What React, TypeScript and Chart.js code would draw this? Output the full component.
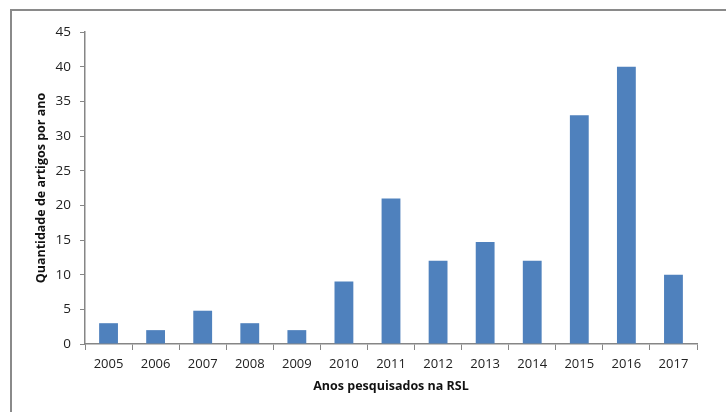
import React, { useEffect, useRef } from "react";
import { Chart, registerables } from "chart.js";

Chart.register(...registerables);

// Articles found per year in the systematic literature review
const years = ["2005", "2006", "2007", "2008", "2009", "2010", "2011", "2012", "2013", "2014", "2015", "2016", "2017"];
const articleCounts = [3, 2, 4.8, 3, 2, 9, 21, 12, 14.7, 12, 33, 40, 10];

const yTitle = "Quantidade de artigos por ano";
const xTitle = "Anos pesquisados na RSL";

const AXIS_GRAY = "#868686";
const FONT = "'Open Sans', 'Liberation Sans', sans-serif";

// Thin gray frame around the figure (left and top edges)
const framePlugin = {
  id: "frame",
  beforeDraw(chart: Chart) {
    const ctx = chart.ctx;
    ctx.save();
    ctx.strokeStyle = "#8a8a8a";
    ctx.lineWidth = 2;
    ctx.beginPath();
    ctx.moveTo(11, chart.height);
    ctx.lineTo(11, 10);
    ctx.lineTo(chart.width, 10);
    ctx.stroke();
    ctx.restore();
  },
};

export default function App() {
  const canvasRef = useRef<HTMLCanvasElement | null>(null);

  useEffect(() => {
    const canvas = canvasRef.current;
    if (!canvas) return;
    const chart = new Chart(canvas, {
      type: "bar",
      data: {
        labels: years,
        datasets: [
          {
            data: articleCounts,
            backgroundColor: "#4F81BD",
            borderWidth: 0,
            barPercentage: 0.4,
            categoryPercentage: 1,
          },
        ],
      },
      options: {
        responsive: false,
        animation: false,
        layout: { padding: { left: 0, top: 32, right: 29, bottom: 0 } },
        plugins: {
          legend: { display: false },
          tooltip: { enabled: false },
        },
        scales: {
          x: {
            offset: true,
            grid: {
              offset: true,
              drawOnChartArea: false,
              drawTicks: true,
              tickLength: 6,
              color: AXIS_GRAY,
            },
            border: { display: true, color: AXIS_GRAY, width: 1.5 },
            ticks: {
              color: "#222",
              padding: 6,
              maxRotation: 0,
              font: { family: FONT, size: 13 },
            },
            title: {
              display: true,
              text: xTitle,
              color: "#111",
              font: { family: FONT, size: 12.5, weight: "bold" },
              padding: { top: 0, bottom: 18 },
            },
            afterFit(scale: any) {
              scale.height = 68;
            },
          },
          y: {
            min: 0,
            max: 45,
            grid: {
              drawOnChartArea: false,
              drawTicks: true,
              tickLength: 5,
              color: AXIS_GRAY,
            },
            border: { display: true, color: AXIS_GRAY, width: 1.5 },
            ticks: {
              stepSize: 5,
              color: "#222",
              padding: 9,
              font: { family: FONT, size: 13.5 },
            },
            title: {
              display: true,
              text: yTitle,
              color: "#111",
              font: { family: FONT, size: 12.5, weight: "bold" },
              padding: { top: 34, bottom: 0 },
            },
            afterFit(scale: any) {
              scale.width = 85;
            },
          },
        },
      },
      plugins: [framePlugin],
    });
    return () => chart.destroy();
  }, []);

  return (
    <div style={{ position: "absolute", left: 0, top: 0, width: 726, height: 412, background: "#fff" }}>
      <canvas ref={canvasRef} width={726} height={412} style={{ display: "block" }} />
    </div>
  );
}
